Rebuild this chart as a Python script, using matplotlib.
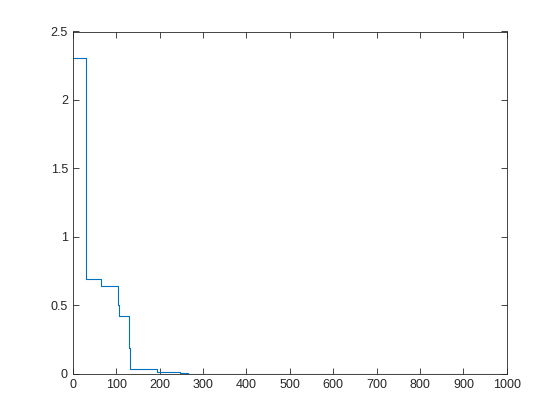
import numpy as np
import matplotlib.pyplot as plt

plt.rcParams['font.family'] = ['Liberation Sans', 'DejaVu Sans']

# step breakpoints (x where each level starts) and levels
edges = [0, 30, 65, 103, 106, 129, 131, 134, 193, 248, 265, 1000]
levels = [2.31, 0.69, 0.64, 0.50, 0.42, 0.19, 0.035, 0.035, 0.015, 0.005, 0.0, 0.0]

fig = plt.figure(figsize=(5.6, 4.2), dpi=100)
ax = fig.add_axes([0.13, 0.11, 0.775, 0.815])
ax.step(edges, levels, where='post', color='#0072BD', lw=0.8)

ax.set_xlim(0, 1000)
ax.set_ylim(0, 2.5)
ax.set_xticks(np.arange(0, 1001, 100))
ax.set_yticks([0, 0.5, 1, 1.5, 2, 2.5])
ax.set_yticklabels(['0', '0.5', '1', '1.5', '2', '2.5'])
ax.tick_params(direction='in', top=True, right=True, length=4, width=0.6,
               labelsize=9, colors='#262626')
for s in ax.spines.values():
    s.set_linewidth(0.6)
    s.set_color('#262626')

fig.savefig('out.png', dpi=100)
